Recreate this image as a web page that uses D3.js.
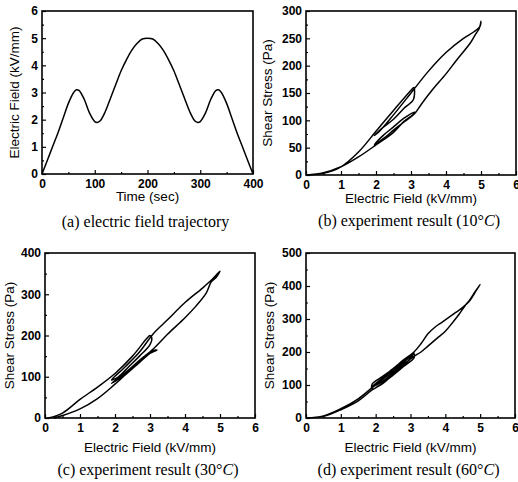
<!DOCTYPE html>
<html><head><meta charset="utf-8">
<script src="https://cdn.jsdelivr.net/npm/d3@7"></script>
<style>body{margin:0;background:#fff}</style>
</head><body>
<script>
// ---------- DATA ----------
// (a) electric field trajectory
const timeA = [0,10,20,30,40,50,60,65,70,80,90,100,105,110,120,130,140,150,160,170,180,190,200,210,220,230,240,250,260,270,280,290,295,300,310,320,330,335,340,350,360,370,380,390,400];
const fieldA = [0,0.5,1.0,1.5,2.05,2.6,3.0,3.1,3.08,2.75,2.25,1.93,1.9,1.95,2.3,2.8,3.3,3.8,4.2,4.55,4.8,4.97,5.0,4.97,4.8,4.55,4.2,3.8,3.3,2.8,2.3,1.95,1.9,1.93,2.25,2.75,3.08,3.1,3.0,2.6,2.05,1.5,1.0,0.5,0];
// (b) 10°C
const fieldB = [0,0.5,1.0,1.5,2.0,2.5,3.0,3.08, 3.07,2.8,2.5,2.2,1.95, 2.1,2.5,3.0,3.5,4.0,4.5,4.8,4.97,5.0, 4.95,4.85,4.7,4.3,4.0,3.6,3.3,3.1,2.8,2.5,2.2,1.95, 2.2,2.5,2.8,3.1,3.05, 2.8,2.5,2.0,1.5,1.0,0.5,0];
const stressB = [0,3,15,42,80,118,155,160, 138,122,102,87,72, 80,110,150,190,224,250,262,272,281, 268,258,242,210,185,155,130,112,97,82,66,55, 72,88,104,115,110, 98,78,55,33,15,4,0];
// (c) 30°C
const fieldC = [0.1,0.5,1.0,1.5,2.0,2.5,2.9,3.0, 3.05,3.0,2.7,2.4,2.1,1.9, 2.3,2.7,3.1,3.5,4.0,4.5,4.8,5.0, 4.9,4.75,4.6,4.3,4.0,3.5,3.1,2.7,2.3,1.9, 2.2,2.6,2.9,3.2, 3.1,2.7,2.3,2.0,1.5,1.0,0.5,0.25];
const stressC = [0,12,45,75,108,150,192,200, 195,178,150,125,100,92, 125,160,205,238,280,315,338,356, 342,330,302,270,243,203,168,140,110,84, 100,130,152,165, 163,135,105,82,47,22,6,0];
// (d) 60°C
const fieldD = [0,0.5,1.0,1.5,1.9,2.2,2.5,2.8,3.1, 3.1,2.8,2.5,2.2,1.9, 1.9,2.2,2.5,2.8,3.1,3.3,3.5,3.7,3.9,4.1,4.3,4.5,4.7,4.85,5.0, 4.85,4.7,4.55,4.4,4.2,4.0,3.8,3.5,3.3,3.1,2.8,2.5,2.2,1.9, 2.2,2.5,2.8,3.1, 2.8,2.5,2.2,1.9,1.5,1.0,0.5,0];
const stressD = [0,6,28,58,92,117,142,168,195, 182,156,130,106,88, 103,126,150,176,200,225,255,275,290,305,320,335,355,380,405, 382,358,338,315,288,263,245,218,200,187,162,136,111,95, 121,146,172,197, 158,132,104,85,52,25,5,0];

const ticksTime = [0,100,200,300,400];
const ticksField = [0,1,2,3,4,5,6];
const ticksFieldA = [0,1,2,3,4,5,6];
const ticksStressB = [0,50,100,150,200,250,300];
const ticksStressC = [0,100,200,300,400];
const ticksStressD = [0,100,200,300,400,500];

// ---------- LAYOUT ----------
const W = 518, H = 482;
const svg = d3.select("body").append("svg").attr("width", W).attr("height", H);

const panels = [
  {box:[42,11,253,174], xd:[0,400], yd:[0,6], xt:ticksTime, yt:ticksFieldA, xs:timeA, ys:fieldA,
   xTitle:"Time (sec)", yTitle:"Electric Field (kV/mm)", yTitleX:14, titleOff:27, capOff:53,
   cap:["(a) electric field trajectory"]},
  {box:[306,11,516,175], xd:[0,6], yd:[0,300], xt:ticksField, yt:ticksStressB, xs:fieldB, ys:stressB,
   xTitle:"Electric Field (kV/mm)", yTitle:"Shear Stress (Pa)", yTitleX:267, titleOff:28, capOff:51,
   cap:["(b) experiment result (","10°","C",")"]},
  {box:[45,253,255,418], xd:[0,6], yd:[0,400], xt:ticksField, yt:ticksStressC, xs:fieldC, ys:stressC,
   xTitle:"Electric Field (kV/mm)", yTitle:"Shear Stress (Pa)", yTitleX:9, titleOff:34, capOff:57,
   cap:["(c) experiment result (","30°","C",")"]},
  {box:[306,253,515,418], xd:[0,6], yd:[0,500], xt:ticksField, yt:ticksStressD, xs:fieldD, ys:stressD,
   xTitle:"Electric Field (kV/mm)", yTitle:"Shear Stress (Pa)", yTitleX:269, titleOff:34, capOff:57,
   cap:["(d) experiment result (","60°","C",")"]}
];

const sansFont = "'Liberation Sans', Arial, sans-serif";
const serifFont = "'Liberation Serif', 'Times New Roman', serif";

panels.forEach(p => {
  const [x0,y0,x1,y1] = p.box;
  const x = d3.scaleLinear().domain(p.xd).range([x0,x1]);
  const y = d3.scaleLinear().domain(p.yd).range([y1,y0]);
  const g = svg.append("g");

  const xStep = p.xt[1]-p.xt[0], yStep = p.yt[1]-p.yt[0];
  const xMinor = d3.range(p.xd[0]+xStep/2, p.xd[1], xStep);
  const yMinor = d3.range(p.yd[0]+yStep/2, p.yd[1], yStep);

  const gx = g.append("g").attr("transform",`translate(0,${y1})`)
    .call(d3.axisBottom(x).tickValues(p.xt).tickSize(-4).tickPadding(5).tickFormat(d3.format("d")));
  gx.append("g").call(d3.axisBottom(x).tickValues(xMinor).tickSize(-2).tickFormat(""));
  const gy = g.append("g").attr("transform",`translate(${x0},0)`)
    .call(d3.axisLeft(y).tickValues(p.yt).tickSize(-4).tickPadding(4).tickFormat(d3.format("d")));
  gy.append("g").call(d3.axisLeft(y).tickValues(yMinor).tickSize(-2).tickFormat(""));
  g.selectAll(".domain").remove();
  g.selectAll(".tick line").attr("stroke","#000").attr("stroke-width",1.2);
  g.selectAll(".tick text").attr("font-family",sansFont).attr("font-size",12)
    .attr("fill","#000").attr("font-weight","bold");
  gx.selectAll(".tick text").attr("dy","0.71em");

  g.append("rect").attr("x",x0).attr("y",y0).attr("width",x1-x0).attr("height",y1-y0)
    .attr("fill","none").attr("stroke","#000").attr("stroke-width",1.6);

  const pts = p.xs.map((v,i)=>[v,p.ys[i]]);
  g.append("path").datum(pts)
    .attr("d", d3.line().x(d=>x(d[0])).y(d=>y(d[1])).curve(d3.curveCatmullRom.alpha(0.5)))
    .attr("fill","none").attr("stroke","#000").attr("stroke-width",1.5).attr("stroke-linejoin","round");

  g.append("text").attr("x",(x0+x1)/2).attr("y",y1+p.titleOff).attr("text-anchor","middle")
    .attr("font-family",sansFont).attr("font-size",13.5).text(p.xTitle);
  g.append("text").attr("transform",`translate(${p.yTitleX},${(y0+y1)/2}) rotate(-90)`)
    .attr("text-anchor","middle").attr("dy","0.35em")
    .attr("font-family",sansFont).attr("font-size",13.5).text(p.yTitle);

  const cap = g.append("text").attr("x",(x0+x1)/2 - 2).attr("y",y1+p.capOff).attr("text-anchor","middle")
    .attr("font-family",serifFont).attr("font-size",16);
  if (p.cap.length === 1) cap.text(p.cap[0]);
  else {
    cap.append("tspan").text(p.cap[0]);
    cap.append("tspan").text(p.cap[1]);
    cap.append("tspan").attr("font-style","italic").text(p.cap[2]);
    cap.append("tspan").text(p.cap[3]);
  }
});
</script>
</body></html>
